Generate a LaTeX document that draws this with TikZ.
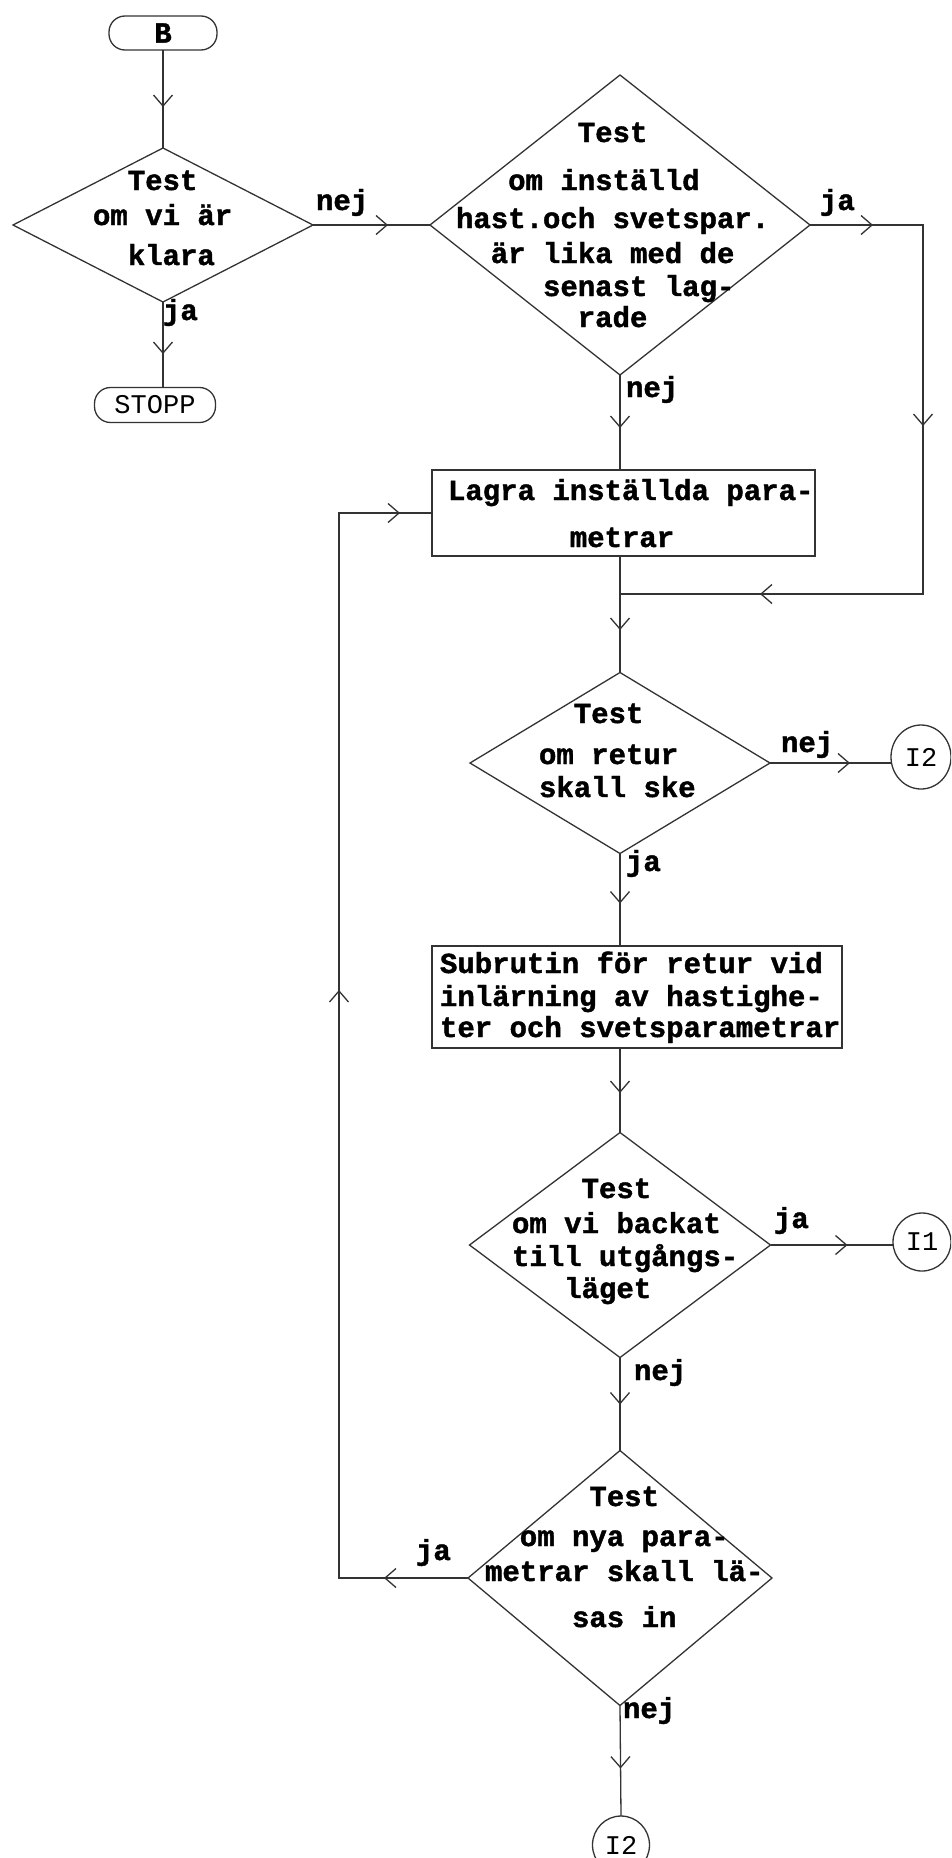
\documentclass[tikz,border=0pt]{standalone}
\usepackage{fontspec}
\usetikzlibrary{shapes.geometric,arrows.meta,decorations.markings}
\newfontfamily\tw[BoldFeatures={FakeBold=1.5}]{Liberation Mono}
\newlength\cw
\setlength\cw{17.4pt}
\tikzset{
  >={Straight Barb[length=11pt,width=19pt]},
  ln/.style={black!80, line width=1.3pt},
  arr/.style={postaction={decorate,decoration={markings,mark=at position #1 with {\arrow{>}}}}},
  txt/.style={inner sep=0pt, outer sep=0pt, align=left, font=\tw\bfseries\fontsize{29pt}{31pt}\selectfont, text=black},
  lbl/.style={inner sep=0pt, outer sep=0pt, font=\tw\bfseries\fontsize{29pt}{31pt}\selectfont, text=black},
  dia/.style={diamond, draw=black!80, line width=1.3pt, inner sep=0pt, outer sep=0pt},
  term/.style={rectangle, rounded corners=16pt, draw=black!80, line width=1.3pt, inner sep=0pt, outer sep=0pt},
  proc/.style={rectangle, draw=black!80, line width=1.3pt, inner sep=0pt, outer sep=0pt},
  conn/.style={ellipse, draw=black!80, line width=1.3pt, inner sep=0pt, outer sep=0pt, font=\tw\fontsize{27pt}{30pt}\selectfont, text=black},
}
\begin{document}
\begin{tikzpicture}[x=1pt,y=-1pt]
\useasboundingbox (0,0) rectangle (951,1858);
\clip (0,0) rectangle (951,1858);
\fill[white] (0,0) rectangle (951,1858);

% shapes
\node[term, minimum width=108pt, minimum height=34pt, font=\tw\bfseries\fontsize{29pt}{31pt}\selectfont] (b) at (163,33) {B};
\node[dia, minimum width=300pt, minimum height=154pt] (d1) at (163,225) {};
\node[term, minimum width=121pt, minimum height=35pt, font=\tw\fontsize{27pt}{30pt}\selectfont] (stopp) at (155,405) {STOPP};
\node[dia, minimum width=380pt, minimum height=300pt] (d2) at (620,225) {};
\node[proc, minimum width=383pt, minimum height=86pt] (lagra) at (623.5,513) {};
\node[dia, minimum width=300pt, minimum height=181pt] (d3) at (620,763) {};
\node[conn, minimum width=60pt, minimum height=64pt] (i2a) at (921,757) {I2};
\node[proc, minimum width=410pt, minimum height=102pt] (sub) at (637,997) {};
\node[dia, minimum width=301pt, minimum height=225pt] (d4) at (620,1245) {};
\node[conn, minimum width=58pt, minimum height=58pt] (i1) at (922,1242) {I1};
\node[dia, minimum width=304pt, minimum height=255pt] (d5) at (620,1578) {};
\node[conn, minimum width=57pt, minimum height=58pt] (i2b) at (621,1845) {I2};

% texts (anchor at baseline of last line)
\node[txt, anchor=base west] (t1) at (93,265) {\hspace*{2\cw}Test\\[4pt]om vi är\\[9pt]\hspace*{2\cw}klara};
\node[txt, anchor=base west] (t2) at (456,327) {\hspace*{7\cw}Test\\[17pt]\hspace*{3\cw}om inställd\\[7pt]hast.och svetspar.\\[4pt]\hspace*{2\cw}är lika med de\\[2pt]\hspace*{5\cw}senast lag-\\[0pt]\hspace*{7\cw}rade};
\node[txt, anchor=base west] (t3) at (448,547) {Lagra inställda para-\\[16pt]\hspace*{7\cw}metrar};
\node[txt, anchor=base west] (t4) at (539,797) {\hspace*{2\cw}Test\\[10pt]om retur\\[2pt]skall ske};
\node[txt, anchor=base west] (t5) at (440,1037) {Subrutin för retur vid\\[2pt]inlärning av hastighe-\\[0pt]ter och svetsparametrar};
\node[txt, anchor=base west] (t6) at (512,1298) {\hspace*{4\cw}Test\\[4pt]om vi backat\\[2pt]till utgångs-\\[1pt]\hspace*{3\cw}läget};
\node[txt, anchor=base west] (t7) at (485,1627) {\hspace*{6\cw}Test\\[9pt]\hspace*{2\cw}om nya para-\\[4pt]metrar skall lä-\\[15pt]\hspace*{5\cw}sas in};

% labels
\node[lbl, anchor=base west] (n1) at (316,210) {nej};
\node[lbl, anchor=base west] (j1) at (163,320) {ja};
\node[lbl, anchor=base west] (j2) at (820,210) {ja};
\node[lbl, anchor=base west] (n2) at (626,397) {nej};
\node[lbl, anchor=base west] (n3) at (781,752) {nej};
\node[lbl, anchor=base west] (j3) at (626,871) {ja};
\node[lbl, anchor=base west] (j4) at (774,1228) {ja};
\node[lbl, anchor=base west] (n4) at (634,1380) {nej};
\node[lbl, anchor=base west] (j5) at (416,1560) {ja};
\node[lbl, anchor=base west] (n5) at (623,1718) {nej};

% connectors
\coordinate (rx) at (923,225);
\coordinate (mg) at (620,594);
\coordinate (lx) at (339,1578);
\draw[ln, arr=57pt] (b) -- (d1);
\draw[ln, arr=52pt] (d1.south) -- (d1.south |- stopp.north);
\draw[ln, arr=75pt] (d1.east) -- (d2.west);
\draw[ln, arr=63pt, arr=314pt, arr=645pt] (d2.east) -- (rx) |- (mg);
\draw[ln, arr=53pt] (d2.south) -- (d2.south |- lagra.north);
\draw[ln, arr=74pt] (lagra.south -| d3.north) -- (d3.north);
\draw[ln, arr=80pt] (d3.east) -- (d3.east -| i2a.west);
\draw[ln, arr=50pt] (d3.south) -- (d3.south |- sub.north);
\draw[ln, arr=45pt] (d3.south |- sub.south) -- (d4.north);
\draw[ln, arr=77pt] (d4.east) -- (d4.east -| i1.west);
\draw[ln, arr=47pt] (d4.south) -- (d5.north);
\draw[ln, arr=84pt, arr=717pt, arr=1255pt] (d5.west) -- (lx) |- (lagra.west);
\draw[ln, arr=63pt] (d5.south) -- (i2b.north);
\end{tikzpicture}
\end{document}
